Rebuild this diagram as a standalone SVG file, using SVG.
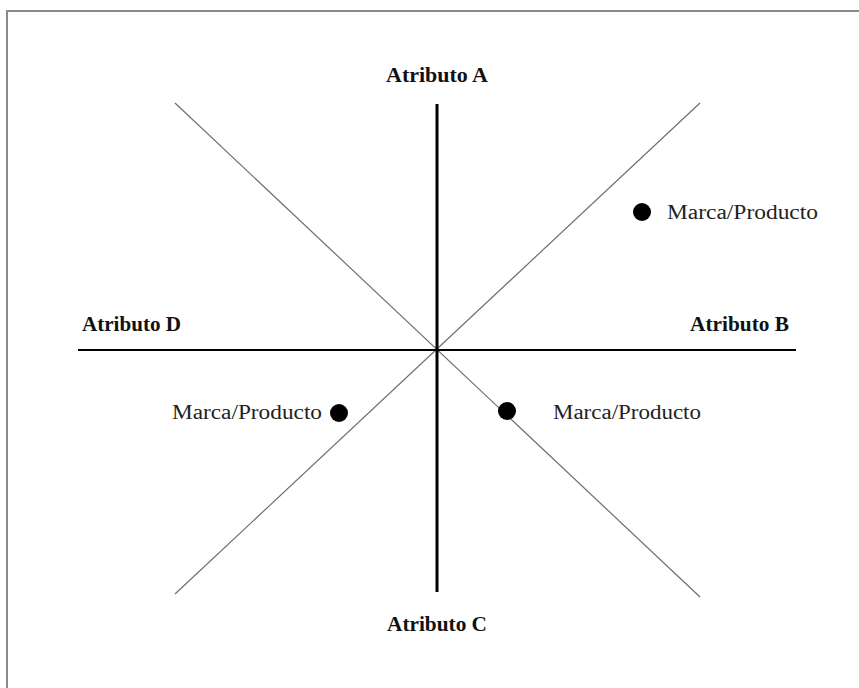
<svg xmlns="http://www.w3.org/2000/svg" width="859" height="688" viewBox="0 0 859 688">
<style>
.frame{stroke:#8a8a8a;stroke-width:2;fill:none}
.axis{stroke:#000;stroke-width:3;fill:none}
.hax{stroke:#000;stroke-width:2;fill:none}
.diag{stroke:#6e6e6e;stroke-width:1.2;fill:none}
.lbl{font-family:"Liberation Serif","Times New Roman",serif;font-weight:bold;font-size:20px;fill:#111}
.brand{font-family:"Liberation Serif","Times New Roman",serif;font-size:20px;fill:#222}
.dot{fill:#000}
</style>
<rect width="859" height="688" fill="#fff"/>
<path class="frame" d="M7,688 V11 H859"/>
<g id="connectors">
<line class="diag" x1="175" y1="103" x2="700" y2="597"/>
<line class="diag" x1="700" y1="103" x2="175" y2="594"/>
<line class="hax" x1="78" y1="350" x2="796" y2="350"/>
<line class="axis" x1="437" y1="104" x2="437" y2="592"/>
</g>
<g id="atributo-a"><text class="lbl" x="437" y="82" text-anchor="middle" textLength="102" lengthAdjust="spacingAndGlyphs">Atributo A</text></g>
<g id="atributo-b"><text class="lbl" x="789" y="331" text-anchor="end" textLength="99" lengthAdjust="spacingAndGlyphs">Atributo B</text></g>
<g id="atributo-c"><text class="lbl" x="437" y="631" text-anchor="middle" textLength="100" lengthAdjust="spacingAndGlyphs">Atributo C</text></g>
<g id="atributo-d"><text class="lbl" x="82" y="331" textLength="99" lengthAdjust="spacingAndGlyphs">Atributo D</text></g>
<g id="marca-1"><circle class="dot" cx="642" cy="212" r="9"/><text class="brand" x="667" y="219" textLength="151" lengthAdjust="spacingAndGlyphs">Marca/Producto</text></g>
<g id="marca-2"><circle class="dot" cx="339" cy="413" r="9"/><text class="brand" x="322" y="419" text-anchor="end" textLength="150" lengthAdjust="spacingAndGlyphs">Marca/Producto</text></g>
<g id="marca-3"><circle class="dot" cx="507" cy="411" r="9"/><text class="brand" x="553" y="419" textLength="148" lengthAdjust="spacingAndGlyphs">Marca/Producto</text></g>
</svg>
